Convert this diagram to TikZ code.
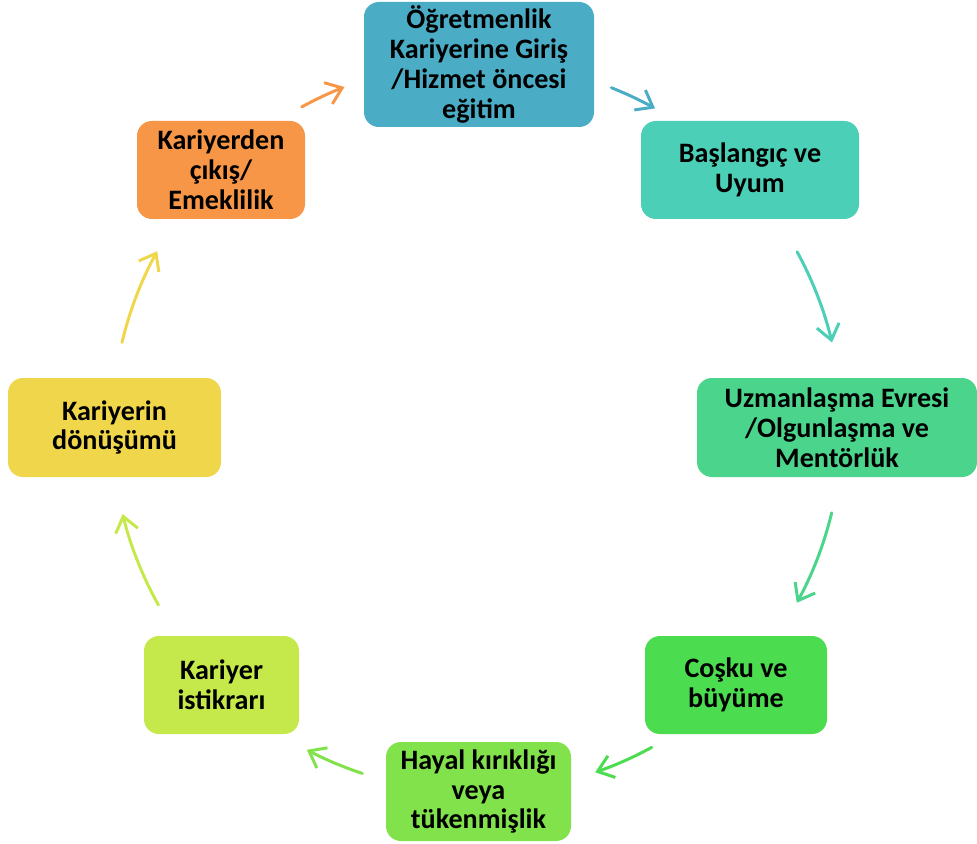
\documentclass[tikz,border=0pt]{standalone}
\usepackage{fontspec}
\setmainfont{Carlito}
\usetikzlibrary{arrows.meta}
\definecolor{girisrenk}{HTML}{4BACC6}
\definecolor{uyumrenk}{HTML}{4BCFB6}
\definecolor{uzmanrenk}{HTML}{4BD58C}
\definecolor{coskurenk}{HTML}{4BDC4F}
\definecolor{hayalrenk}{HTML}{82E24B}
\definecolor{istikrarrenk}{HTML}{C5E84B}
\definecolor{donusumrenk}{HTML}{F0D64B}
\definecolor{cikisrenk}{HTML}{F79646}
\tikzset{
  evre/.style={rounded corners=8.5pt, inner sep=0pt, align=center,
    font=\fontsize{16}{17}\selectfont\bfseries, text=black},
  boyut/.style 2 args={minimum width=#1*0.02cm, minimum height=#2*0.02cm},
  okcizgi/.style={line width=1.7pt, line cap=round,
    -{Straight Barb[length=8.5pt,width=13pt,line width=1.7pt]}}
}
\begin{document}
\begin{tikzpicture}[x=0.02cm,y=0.02cm]
        \useasboundingbox (0,0) rectangle (977,843);
        \coordinate (merkez) at (477,416);
        % evreler
        \node[evre, fill=girisrenk, boyut={230}{125}] (giris) at (479,778.5)
            {Öğretmenlik\\Kariyerine Giriş\\/Hizmet öncesi\\eğitim};
        \node[evre, fill=uyumrenk, boyut={218}{98}] (uyum) at (750,673)
            {Başlangıç ve\\Uyum};
        \node[evre, fill=uzmanrenk, boyut={280}{99}] (uzman) at (837,415.5)
            {Uzmanlaşma Evresi\\/Olgunlaşma ve\\Mentörlük};
        \node[evre, fill=coskurenk, boyut={182}{98}] (cosku) at (736,158)
            {Coşku ve\\büyüme};
        \node[evre, fill=hayalrenk, boyut={185}{99}] (hayal) at (478.5,51.5)
            {Hayal kırıklığı\\veya\\tükenmişlik};
        \node[evre, fill=istikrarrenk, boyut={155}{98}] (istikrar) at (221.5,158)
            {Kariyer\\istikrarı};
        \node[evre, fill=donusumrenk, boyut={213}{99}] (donusum) at (114.5,415.5)
            {Kariyerin\\dönüşümü};
        \node[evre, fill=cikisrenk, boyut={168}{98}] (cikis) at (221,673)
            {Kariyerden\\çıkış/\\Emeklilik};
        % evreler arasi oklar
        \foreach \bas/\son/\renk [count=\i] in {68.4/60.8/girisrenk, 28.7/13.4/uyumrenk,
            -13.6/-28.8/uzmanrenk, -61.4/-71.1/coskurenk, -108.3/-117.8/hayalrenk,
            209.2/193.8/istikrarrenk, 166.6/151.2/donusumrenk, 118.7/111.3/cikisrenk} {
            \path (merkez) ++(\bas:7.3cm) coordinate (ok\i);
            \draw[okcizgi, \renk] (ok\i) arc[start angle=\bas, end angle=\son, radius=7.3cm];
        }
    \end{tikzpicture}
\end{document}
